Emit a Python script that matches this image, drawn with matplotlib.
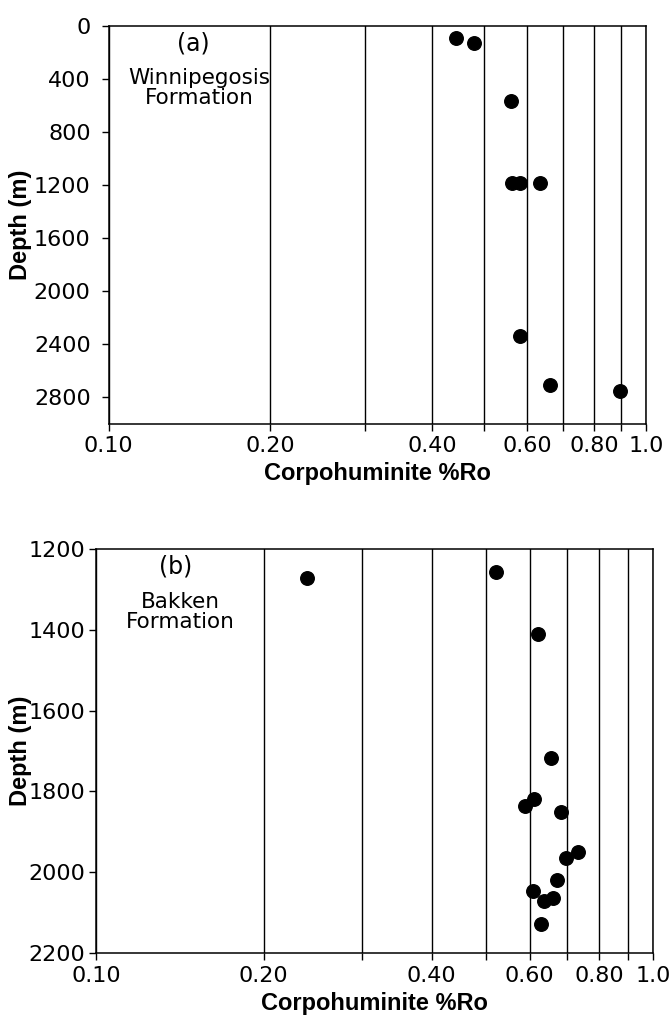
import numpy as np
import matplotlib
matplotlib.use("Agg")
import matplotlib.pyplot as plt

# (a) Winnipegosis Formation
ro_a = [0.442, 0.479, 0.561, 0.563, 0.583, 0.636, 0.583, 0.662, 0.895]
depth_a = [90, 128, 562, 1185, 1185, 1185, 2340, 2707, 2758]

# (b) Bakken Formation
ro_b = [0.239, 0.522, 0.621, 0.654, 0.612, 0.589, 0.682, 0.733, 0.697,
        0.671, 0.608, 0.662, 0.637, 0.630]
depth_b = [1272, 1258, 1410, 1717, 1819, 1835, 1850, 1951, 1966,
           2019, 2047, 2065, 2071, 2129]

x_ticks = [0.1, 0.2, 0.3, 0.4, 0.5, 0.6, 0.7, 0.8, 0.9, 1.0]
x_labels = ['0.10', '0.20', '', '0.40', '', '0.60', '', '0.80', '', '1.0']
y_ticks_a = [0, 400, 800, 1200, 1600, 2000, 2400, 2800]
y_ticks_b = [1200, 1400, 1600, 1800, 2000, 2200]

label_font = ['Liberation Sans', 'DejaVu Sans']
plt.rcParams['font.family'] = ['DejaVu Sans']


def draw_panel(ax, ro, depth, yticks, ylim, tag, name, txt_x, ypad):
    ax.scatter(ro, depth, s=95, color='black', zorder=3, clip_on=False)
    ax.set_xscale('log')
    ax.set_xlim(0.1, 1.0)
    ax.set_ylim(ylim)
    ax.set_xticks(x_ticks, labels=x_labels)
    ax.minorticks_off()
    ax.set_yticks(yticks)
    ax.grid(axis='x', color='black', linewidth=1.0)
    ax.grid(axis='y', visible=False)
    for s in ax.spines.values():
        s.set_linewidth(1.1)
    ax.tick_params(axis='both', direction='out', length=5, width=1.0,
                   labelsize=16, top=False, right=False)
    ax.tick_params(axis='x', pad=4)
    ax.tick_params(axis='y', pad=ypad)
    ax.set_xlabel('Corpohuminite %Ro', fontsize=17, family=label_font,
                  fontweight='bold')
    ax.set_ylabel('Depth (m)', fontsize=17, family=label_font,
                  fontweight='bold')
    ax.text(txt_x, 0.956, tag, transform=ax.transAxes, fontsize=17,
            ha='center', va='center')
    ax.text(txt_x + 0.01, 0.843, name, transform=ax.transAxes, fontsize=15.5,
            ha='center', va='center', linespacing=1.0)


fig = plt.figure(figsize=(6.72, 10.22), dpi=100)
ax_a = fig.add_axes([0.1618, 0.5856, 0.7996, 0.3889])
ax_b = fig.add_axes([0.1429, 0.0675, 0.8293, 0.3953])

draw_panel(ax_a, ro_a, depth_a, y_ticks_a, (3000, 0), '(a)',
           'Winnipegosis\nFormation', 0.158, 8)
draw_panel(ax_b, ro_b, depth_b, y_ticks_b, (2200, 1200), '(b)',
           'Bakken\nFormation', 0.142, 3)

ax_a.xaxis.set_label_coords(0.5, -0.098)
ax_a.yaxis.set_label_coords(-0.143, 0.5)
ax_b.xaxis.set_label_coords(0.5, -0.096)
ax_b.yaxis.set_label_coords(-0.115, 0.5)

fig.savefig('out.png', dpi=100)
